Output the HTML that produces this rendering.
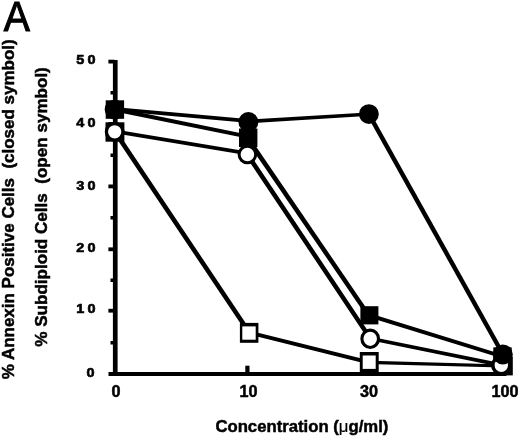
<!DOCTYPE html>
<html><head><meta charset="utf-8">
<style>
html,body{margin:0;padding:0;background:#fff;}
body{width:520px;height:438px;overflow:hidden;}
svg{display:block;}
text{font-family:"Liberation Sans",sans-serif;fill:#000;}
.b{stroke:#000;stroke-width:0.5px;}
.b{font-weight:bold;}
</style></head><body>
<svg width="520" height="438" viewBox="0 0 520 438">
<rect width="520" height="438" fill="#fff"/>
<text id="A" transform="translate(3.7,31.1) scale(0.915,1)" font-size="42.8" stroke="#000" stroke-width="1.1">A</text>
<!-- y labels -->
<g class="b" font-size="13.4" letter-spacing="3.1" style="stroke-width:0.6px">
<text id="y50" transform="translate(76.2,63.8) scale(1.08,1)">50</text>
<text id="y40" transform="translate(76.2,127.0) scale(1.08,1)">40</text>
<text id="y30" transform="translate(76.2,189.5) scale(1.08,1)">30</text>
<text id="y20" transform="translate(76.2,252.0) scale(1.08,1)">20</text>
<text id="y10" transform="translate(76.2,313.3) scale(1.08,1)">10</text>
<text id="y0" transform="translate(86.4,377) scale(1.08,1)">0</text>
</g>
<g class="b" font-size="16.2" text-anchor="middle">
<text x="116" y="397.2">0</text>
<text id="x10" x="248.4" y="397.2">10</text>
<text x="369" y="397.2">30</text>
<text x="505" y="397.2">100</text>
</g>
<text id="xt" class="b" font-size="17.4" x="215.4" y="431.9" textLength="173" lengthAdjust="spacingAndGlyphs">Concentration (<tspan font-weight="normal" style="stroke-width:0.2px">μ</tspan>g/ml)</text>
<text id="yl1" class="b" font-size="17" textLength="340" lengthAdjust="spacingAndGlyphs" transform="translate(14,379.3) rotate(-90)" xml:space="preserve">% Annexin Positive Cells  (closed symbol)</text>
<text id="yl2" class="b" font-size="17" textLength="279.5" lengthAdjust="spacingAndGlyphs" transform="translate(46.9,346.7) rotate(-90)" xml:space="preserve">% Subdiploid Cells  (open symbol)</text>
<!-- axes -->
<g fill="#000">
<rect x="112.9" y="60" width="4.7" height="316"/>
<rect x="108.5" y="372" width="398" height="4"/>
<rect x="108.4" y="59.7" width="6" height="3.8"/>
<rect x="108.4" y="122.1" width="6" height="3.8"/>
<rect x="108.4" y="184.5" width="6" height="3.8"/>
<rect x="108.4" y="247.4" width="6" height="3.8"/>
<rect x="108.4" y="308.8" width="6" height="3.8"/>
<rect x="110.5" y="91" width="4" height="3.5"/>
<rect x="110.5" y="153.5" width="4" height="3.5"/>
<rect x="110.5" y="216" width="4" height="3.5"/>
<rect x="110.5" y="278.5" width="4" height="3.5"/>
<rect x="110.5" y="341" width="4" height="3.5"/>
<rect x="245.3" y="365.7" width="4.2" height="8"/>
<rect x="367.5" y="365.7" width="4.2" height="8"/>

</g>
<!-- lines -->
<g fill="#000">
<polygon points="113.3,130.2 116.7,130.2 251.0,331.1 251.0,334.3 247.7,334.3 113.3,133.5"/>
<polygon points="247.7,331.1 251.0,331.1 370.6,360.7 370.6,363.9 367.4,363.9 247.7,334.3"/>
<polygon points="367.4,360.7 370.6,360.7 505.1,364.4 505.1,367.6 501.9,367.6 367.4,363.9"/>
<polygon points="113.1,129.7 116.5,129.7 249.1,151.8 249.1,155.1 245.8,155.1 113.1,133.0"/>
<polygon points="245.8,152.8 249.1,152.8 371.8,336.7 371.8,339.9 368.6,339.9 245.8,156.2"/>
<polygon points="368.8,336.9 372.0,336.9 502.9,363.6 502.9,366.8 499.7,366.8 368.8,340.1"/>
<polygon points="113.3,107.8 116.7,107.8 249.7,135.0 249.7,138.3 246.3,138.3 113.3,111.2"/>
<polygon points="245.5,136.0 248.8,136.0 370.2,313.7 370.2,316.9 367.0,316.9 245.5,139.3"/>
<polygon points="367.8,313.7 371.0,313.7 504.1,354.9 504.1,358.1 500.9,358.1 367.8,316.9"/>
<polygon points="112.8,107.3 116.2,107.3 250.2,119.3 250.2,122.7 246.9,122.7 112.8,110.7"/>
<polygon points="246.9,119.8 367.2,112.4 370.5,112.4 370.5,115.8 250.2,123.2 246.9,123.2"/>
<polygon points="367.2,112.4 370.5,112.4 504.4,352.5 504.4,355.8 501.2,355.8 367.2,115.8"/>
</g>
<!-- markers -->
<g fill="#000">
<rect x="239.9" y="322.9" width="18.5" height="19.9"/>
<rect x="359.8" y="352" width="18.9" height="21"/>
<rect x="494.3" y="356.7" width="18.5" height="18.7"/>
<rect x="105.5" y="122.3" width="18.9" height="19.4"/>
</g>
<g fill="#fff">
<rect x="242.3" y="326.4" width="13.4" height="13.3"/>
<rect x="362.7" y="355.5" width="13" height="13.4"/>
<rect x="498.1" y="360.5" width="10.9" height="10.9"/>
<rect x="108.7" y="125.5" width="12.5" height="12.9"/>
</g>
<g fill="#000">
<rect x="105.7" y="100.3" width="18.4" height="18.5"/>
<rect x="239" y="128.5" width="18.4" height="18.5"/>
<rect x="360.4" y="306.2" width="18" height="18.2"/>
<rect x="493.3" y="347.4" width="18.4" height="18.3"/>
</g>
<g stroke="#000" stroke-width="3" fill="#fff">
<circle cx="114.7" cy="131.8" r="8.3" stroke-width="3.3"/>
<circle cx="247.4" cy="154.5" r="8.3"/>
<ellipse cx="370.2" cy="338.8" rx="8.3" ry="8.65" stroke-width="3.1"/>
<circle cx="501.3" cy="365.2" r="8.5" stroke-width="3.6"/>
</g>
<g fill="#000">
<circle cx="114.5" cy="109.5" r="9.8"/>
<circle cx="248.4" cy="122" r="10"/>
<circle cx="368.9" cy="114.1" r="9.9"/>
<circle cx="502.8" cy="354.4" r="10"/>
</g>
</svg>
</body></html>
